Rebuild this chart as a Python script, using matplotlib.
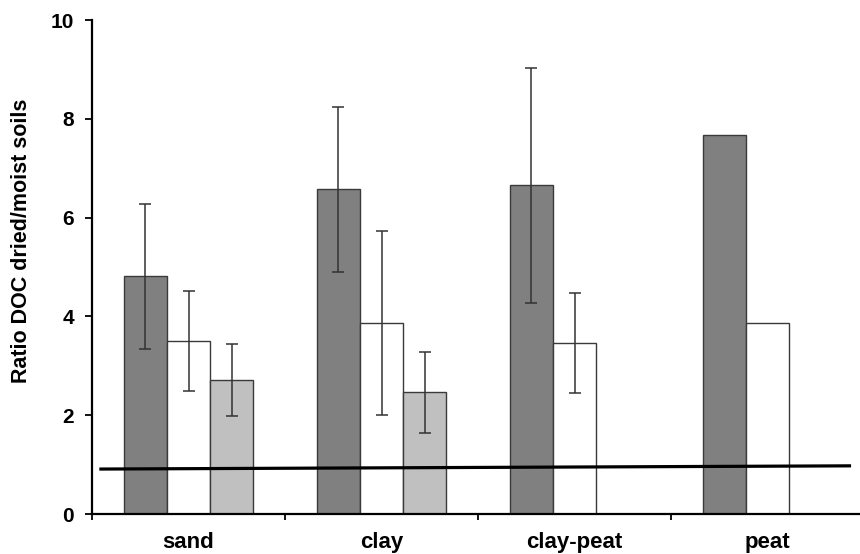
import numpy as np
import matplotlib
matplotlib.use("Agg")
import matplotlib.pyplot as plt

plt.rcParams['font.family'] = ['Liberation Sans', 'DejaVu Sans']
plt.rcParams['font.weight'] = 'bold'

# data
soils = ['sand', 'clay', 'clay-peat', 'peat']
dark_vals = [4.81, 6.57, 6.65, 7.68]
dark_err = [1.47, 1.67, 2.37, 0]
white_vals = [3.50, 3.86, 3.46, 3.86]
white_err = [1.01, 1.86, 1.02, 0]
grey_vals = [2.72, 2.46, np.nan, np.nan]
grey_err = [0.73, 0.82, 0, 0]

# reference line (ratio ~1)
ref_x = [-0.462, 3.433]
ref_y = [0.91, 0.975]

fig = plt.figure(figsize=(8.6, 5.54), dpi=100)
ax = fig.add_axes([92 / 860, 40 / 554, 772 / 860, 494 / 554])

x = np.arange(len(soils))
w = 0.223
edge = '#3a3a3a'
err_kw = dict(ecolor='#333333', elinewidth=1.1, capsize=4, capthick=1.1)

def draw(offset, vals, errs, color):
    errs = np.array(errs, dtype=float)
    yerr = np.where(errs > 0, errs, np.nan)
    ax.bar(x + offset, vals, w, color=color, edgecolor=edge, linewidth=1.0, zorder=2)
    ax.errorbar(x + offset, vals, yerr=yerr, fmt='none', zorder=3, **err_kw)

draw(-w, dark_vals, dark_err, '#808080')
draw(0, white_vals, white_err, 'white')
draw(w, grey_vals, grey_err, '#c0c0c0')

ax.plot(ref_x, ref_y, color='black', linewidth=2.3, zorder=4, solid_capstyle='butt')

ax.set_xlim(-0.5, 3.5)
ax.set_ylim(0, 10)
ax.set_yticks([0, 2, 4, 6, 8, 10])
ax.tick_params(axis='y', direction='out', length=5, width=1.3, pad=8, labelsize=15)

ax.set_xticks(np.arange(-0.5, 3.6, 1.0))
ax.set_xticklabels([])
ax.set_xticks(x, minor=True)
ax.set_xticklabels(soils, minor=True, fontsize=16, fontweight='bold')
ax.tick_params(axis='x', which='major', direction='out', length=4.5, width=1.3)
ax.tick_params(axis='x', which='minor', length=0, pad=13)

for s in ['top', 'right']:
    ax.spines[s].set_visible(False)
ax.spines['left'].set_linewidth(1.6)
ax.spines['bottom'].set_linewidth(1.6)

ax.set_ylabel('Ratio DOC dried/moist soils', fontsize=15.5, fontweight='bold')
ax.yaxis.set_label_coords(-0.078, 0.553)

fig.savefig('out.png', dpi=100)
